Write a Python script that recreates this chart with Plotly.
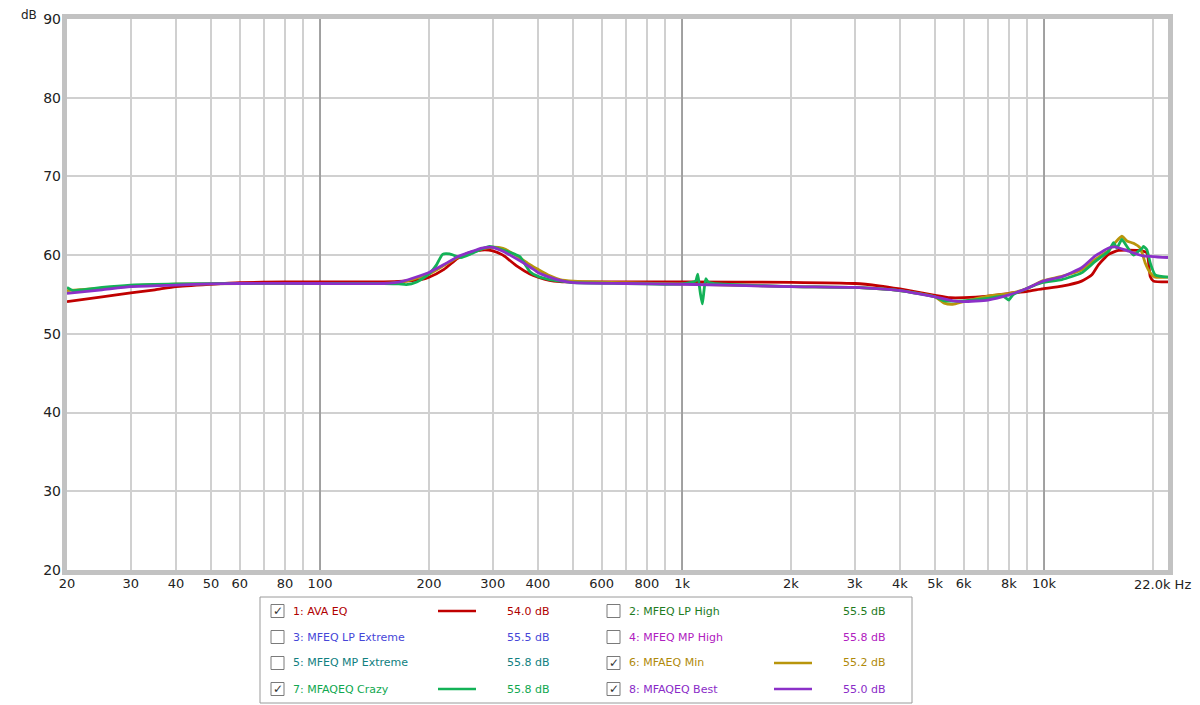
import plotly.graph_objects as go

# ---------------- data ----------------
ava_f = [20, 25, 30, 35, 40, 50, 60, 80, 100, 150, 170, 190, 200, 220, 240, 260, 280, 300, 320, 350, 380, 400, 430, 460, 500,
         700, 1000, 2000, 3000, 3500, 4000, 5000, 5500, 6000, 7000, 8000, 9000, 9870, 11200, 12700, 13560, 14150, 15080,
         16070, 18240, 19230, 19650, 20060, 22000]
ava_db = [54.1, 54.7, 55.2, 55.6, 56.0, 56.3, 56.5, 56.6, 56.6, 56.6, 56.7, 56.9, 57.2, 58.2, 59.6, 60.35, 60.65, 60.55, 60.0, 58.6,
          57.6, 57.2, 56.8, 56.65, 56.6, 56.6, 56.6, 56.55, 56.4, 56.1, 55.7, 54.9, 54.6, 54.6, 54.8, 55.15, 55.4, 55.7, 56.05,
          56.7, 57.5, 58.8, 60.1, 60.6, 60.6, 60.3, 57.3, 56.7, 56.6]

min_f = [20, 25, 30, 40, 60, 100, 150, 170, 200, 220, 240, 260, 280, 300, 320, 350, 380, 400, 430, 460, 500, 700, 1000, 2000,
         3000, 4000, 5000, 5300, 5600, 6000, 7000, 8000, 9000, 9870, 11200, 12700, 13850, 15080, 15730, 16400, 16940, 17670,
         18440, 19030, 19650, 20280, 22000]
min_db = [55.5, 55.8, 56.1, 56.3, 56.4, 56.4, 56.4, 56.6, 57.6, 58.7, 59.7, 60.3, 60.8, 61.0, 60.85, 59.9, 58.8, 58.2, 57.4, 56.9,
          56.7, 56.5, 56.35, 56.0, 55.9, 55.5, 54.7, 53.9, 53.75, 54.1, 54.8, 55.1, 55.8, 56.7, 57.3, 58.1, 59.45, 60.6, 61.6,
          62.4, 61.8, 61.5, 60.9, 59.0, 57.75, 57.2, 57.2]

crazy_f = [20, 20.8, 22, 25, 30, 40, 60, 100, 150, 165, 173, 185, 200, 210, 218, 228, 245, 262, 280, 294, 320, 346, 357, 370, 380,
           400, 430, 460, 500, 700, 900, 1000, 1050, 1090, 1105, 1115, 1125, 1138, 1150, 1163, 1180, 1220, 1300, 2000, 3000,
           4000, 5000, 5300, 6000, 7000, 7700, 8000, 8200, 9000, 9870, 11200, 12700, 13850, 15080, 15560, 15900, 16400, 16940,
           17670, 18240, 18600, 18830, 19230, 19650, 20280, 22000]
crazy_db = [55.9, 55.5, 55.6, 55.9, 56.2, 56.35, 56.4, 56.4, 56.4, 56.35, 56.25, 56.6, 57.6, 58.8, 60.1, 60.15, 59.7, 60.2, 60.8,
            61.1, 60.65, 60.1, 59.8, 58.7, 57.9, 57.3, 56.9, 56.7, 56.5, 56.4, 56.3, 56.35, 56.5, 56.7, 57.6, 56.3, 55.0, 53.8,
            55.5, 57.0, 56.6, 56.4, 56.3, 56.0, 55.9, 55.5, 54.7, 54.2, 54.2, 54.5, 54.8, 54.3, 54.95, 55.8, 56.5, 56.9, 57.75,
            59.2, 60.5, 61.6, 60.9, 62.0, 61.1, 60.0, 60.5, 60.8, 61.1, 60.7, 59.0, 57.5, 57.2]

best_f = [20, 25, 30, 40, 50, 60, 100, 150, 170, 200, 220, 240, 260, 280, 300, 320, 350, 380, 400, 430, 460, 500, 700, 1000,
          2000, 3000, 4000, 5000, 5600, 6000, 7000, 8000, 9000, 9870, 11200, 12700, 13850, 15080, 15730, 17120, 18620, 22000]
best_db = [55.15, 55.6, 56.0, 56.2, 56.35, 56.4, 56.4, 56.4, 56.7, 57.8, 58.8, 59.8, 60.4, 60.9, 61.0, 60.5, 59.5, 58.5, 57.8,
           57.2, 56.8, 56.5, 56.4, 56.3, 56.0, 55.9, 55.5, 54.7, 54.2, 54.1, 54.3, 54.95, 55.8, 56.65, 57.25, 58.4, 59.9, 60.9,
           61.05, 60.5, 59.95, 59.7]

x_grid_vals = [20, 30, 40, 50, 60, 70, 80, 90, 100, 200, 300, 400, 500, 600, 700, 800, 900, 1000,
               2000, 3000, 4000, 5000, 6000, 7000, 8000, 9000, 10000, 20000]
x_grid_text = ["20", "30", "40", "50", "60", "", "80", "", "100", "200", "300", "400", "", "600", "", "800", "", "1k",
               "2k", "3k", "4k", "5k", "6k", "", "8k", "", "10k", ""]
decades = [100, 1000, 10000]
y_ticks = [20, 30, 40, 50, 60, 70, 80, 90]

legend_names = ["1: AVA EQ", "2: MFEQ LP High", "3: MFEQ LP Extreme", "4: MFEQ MP High",
                "5: MFEQ MP Extreme", "6: MFAEQ Min", "7: MFAQEQ Crazy", "8: MFAQEQ Best"]
legend_values = ["54.0 dB", "55.5 dB", "55.5 dB", "55.8 dB", "55.8 dB", "55.2 dB", "55.8 dB", "55.0 dB"]
legend_checked = [True, False, False, False, False, True, True, True]
legend_colors = ["#b00000", "#1e7b1e", "#4646d8", "#b020c0", "#108080", "#b08a0a", "#10a850", "#8a2bc8"]

# ---------------- figure ----------------
OFF = 8  # page body margin
L, R, T, B = 67, 1168, 19, 570   # plot area in page pixels
W, H = R - L, B - T
FIG_W, FIG_H = 1200 - OFF, 705 - OFF


def px(x):
    return (x - L) / W


def py(y):
    return (B - y) / H


fig = go.Figure()

for d in decades:
    fig.add_trace(go.Scatter(x=[d, d], y=[20, 90], mode="lines", line=dict(color="#929292", width=1.5),
                             hoverinfo="skip", showlegend=False))

series = [
    (ava_f, ava_db, "#c00000"),
    (min_f, min_db, "#b8950c"),
    (crazy_f, crazy_db, "#13b257"),
    (best_f, best_db, "#8b30c8"),
]
series_idx = [0, 5, 6, 7]
for f, db, c in series:
    fig.add_trace(go.Scatter(x=f, y=db, mode="lines", line=dict(color=c, width=2.8, shape="spline", smoothing=0.5),
                             showlegend=False, hoverinfo="skip"))

shapes = []
annotations = []

# frame
shapes.append(dict(type="rect", xref="paper", yref="paper",
                   x0=px(L - 2.5), x1=px(R + 2.5), y0=py(B + 2.5), y1=py(T - 2.5),
                   line=dict(color="#c2c2c2", width=5), layer="above"))

# axis unit labels
annotations.append(dict(text="dB", xref="paper", yref="paper", x=px(39), y=py(15), xanchor="right", yanchor="middle",
                        showarrow=False, font=dict(size=12, color="#222", family="DejaVu Sans")))
annotations.append(dict(text="22.0k Hz", xref="paper", yref="paper", x=px(1193), y=py(584), xanchor="right",
                        yanchor="middle", showarrow=False, font=dict(size=13, color="#222", family="DejaVu Sans")))

# legend box
shapes.append(dict(type="rect", xref="paper", yref="paper", x0=px(260), x1=px(912), y0=py(703), y1=py(597),
                   line=dict(color="#9a9a9a", width=1), fillcolor="white"))
row_y = [611, 637, 663, 689]
cols = [dict(box=271, text=291, line0=438, line1=476, val=552),
        dict(box=607, text=627, line0=774, line1=812, val=888)]
for i, name in enumerate(legend_names):
    col = cols[i % 2]
    yy = row_y[i // 2]
    color = legend_colors[i]
    shapes.append(dict(type="rect", xref="paper", yref="paper", x0=px(col["box"]), x1=px(col["box"] + 13),
                       y0=py(yy + 6.5), y1=py(yy - 6.5), line=dict(color="#7a7a7a", width=1), fillcolor="white"))
    if legend_checked[i]:
        annotations.append(dict(text="✓", xref="paper", yref="paper", x=px(col["box"] + 6.5), y=py(yy),
                                xanchor="center", yanchor="middle", showarrow=False,
                                font=dict(size=12, color="#333", family="DejaVu Sans")))
        shapes.append(dict(type="line", xref="paper", yref="paper", x0=px(col["line0"]), x1=px(col["line1"]),
                           y0=py(yy), y1=py(yy), line=dict(color=series[series_idx.index(i)][2], width=2.5)))
    annotations.append(dict(text=name, xref="paper", yref="paper", x=px(col["text"]), y=py(yy), xanchor="left",
                            yanchor="middle", showarrow=False, font=dict(size=11, color=color, family="DejaVu Sans")))
    annotations.append(dict(text=legend_values[i], xref="paper", yref="paper", x=px(col["val"]), y=py(yy),
                            xanchor="right", yanchor="middle", showarrow=False,
                            font=dict(size=11, color=color, family="DejaVu Sans")))

fig.update_layout(
    width=FIG_W, height=FIG_H,
    margin=dict(l=L - OFF, r=1200 - R, t=T - OFF, b=705 - B, autoexpand=False),
    paper_bgcolor="white", plot_bgcolor="white",
    shapes=shapes, annotations=annotations,
    xaxis=dict(type="log", range=[1.30103, 4.342423], tickvals=x_grid_vals, ticktext=x_grid_text,
               showgrid=True, gridcolor="#d0d0d0", gridwidth=1.5, zeroline=False, showline=False, ticks="",
               tickfont=dict(size=13, color="#222", family="DejaVu Sans"), ticklabelstandoff=4),
    yaxis=dict(range=[20, 90], tickvals=y_ticks, showgrid=True, gridcolor="#d0d0d0", gridwidth=1.5,
               zeroline=False, showline=False, ticks="",
               tickfont=dict(size=14, color="#222", family="DejaVu Sans"), ticklabelstandoff=5),
)

fig.write_html("out.html")
